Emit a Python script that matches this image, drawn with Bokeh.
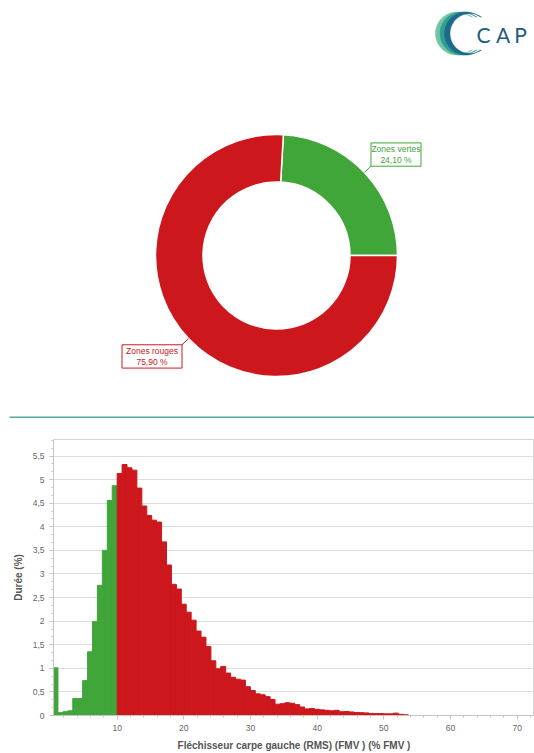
import math
import numpy as np
from bokeh.plotting import figure
from bokeh.models import Range1d, FixedTicker, ColumnDataSource
from bokeh.embed import file_html
from bokeh.resources import INLINE
from bokeh.core.properties import value

# ---------------- data ----------------
zone_names = ["Zones vertes", "Zones rouges"]
zone_pcts = [24.10, 75.90]
zone_colors = ["#41a63a", "#cc181d"]

bin_width = 0.74
threshold = 10.0
green_vals = [1.01, 0.06, 0.08, 0.10, 0.36, 0.36, 0.74, 1.35, 1.99, 2.76, 3.50, 4.56, 4.87]
red_vals = [5.13, 5.32, 5.25, 5.20, 4.82, 4.44, 4.24, 4.14, 4.10, 3.68,
            3.19, 2.78, 2.68, 2.36, 2.19, 2.02, 1.79, 1.66, 1.46, 1.16,
            0.99, 1.04, 0.90, 0.81, 0.77, 0.75, 0.61, 0.53, 0.46, 0.44,
            0.40, 0.34, 0.24, 0.25, 0.27, 0.26, 0.23, 0.18, 0.14, 0.15,
            0.13, 0.12, 0.11, 0.10, 0.11, 0.08, 0.085, 0.075, 0.065, 0.06,
            0.055, 0.045, 0.04, 0.04, 0.035, 0.035, 0.05, 0.025, 0.015]

y_ticks = [0, 0.5, 1, 1.5, 2, 2.5, 3, 3.5, 4, 4.5, 5, 5.5]
y_tick_labels = ["0", "0,5", "1", "1,5", "2", "2,5", "3", "3,5", "4", "4,5", "5", "5,5"]
x_ticks = [10, 20, 30, 40, 50, 60, 70]
x_label = "Fléchisseur carpe gauche (RMS) (FMV ) (% FMV )"
y_label = "Durée (%)"
logo_letters = ["C", "A", "P"]

# ---------------- layout constants ----------------
W = 534
H_TOP = 425
H_BOT = 328
FONT = "Liberation Sans"

# ---------------- top figure: logo + donut ----------------
top = figure(width=W, height=H_TOP, x_range=Range1d(0, W), y_range=Range1d(0, H_TOP),
             output_backend="svg", toolbar_location=None, x_axis_type=None, y_axis_type=None,
             min_border=0, outline_line_color=None)
top.grid.visible = False

# logo crescents
lcx, lcy, lr = 456.5, 392.0, 21.5
cres_colors = ["#74c6a2", "#2f9f95", "#1d6a8a"]
for i, c in enumerate(cres_colors):
    cx0 = lcx + i * 4.5
    a = np.linspace(math.radians(55), math.radians(305), 60)
    outer_x = cx0 + lr * np.cos(a)
    outer_y = lcy + lr * np.sin(a)
    inner_r = lr * 0.93
    b = np.linspace(math.radians(305), math.radians(55), 60)
    inner_x = cx0 + 4.0 + inner_r * np.cos(b)
    inner_y = lcy + inner_r * np.sin(b)
    top.patch(list(outer_x) + list(inner_x), list(outer_y) + list(inner_y),
              fill_color=c, line_color=c, line_width=0.5)
letter_x = [483, 502.5, 520]
top.text(x=letter_x, y=[391.5] * 3, text=logo_letters, text_align="center",
         text_baseline="middle", text_font=value("Lato"), text_font_size="21px",
         text_color="#1f5d7c")

# separator line
top.line(x=[9, W], y=[8.3, 8.3], line_color="#55aa9c", line_width=1.5)

# donut
cx, cy = 276.0, 170.0
r_out, r_in = 121.0, 73.5
total = sum(zone_pcts)
starts, ends = [], []
acc = 0.0
for v in zone_pcts:
    starts.append(2 * math.pi * acc / total)
    acc += v
    ends.append(2 * math.pi * acc / total)
src = ColumnDataSource(dict(start=starts, end=ends, color=zone_colors))
top.annular_wedge(x=cx, y=cy, inner_radius=r_in, outer_radius=r_out,
                  start_angle="start", end_angle="end", fill_color="color",
                  line_color="white", line_width=1.5, source=src)

box_w = {"Zones vertes": 50, "Zones rouges": 60}
box_h = 23.3
for name, pct, col, s, e in zip(zone_names, zone_pcts, zone_colors, starts, ends):
    m = (s + e) / 2
    p1 = (cx + r_out * math.cos(m), cy + r_out * math.sin(m))
    p2 = (cx + (r_out + 9) * math.cos(m), cy + (r_out + 9) * math.sin(m))
    top.line(x=[p1[0], p2[0]], y=[p1[1], p2[1]], line_color=col, line_width=1)
    bw = box_w[name]
    bx = p2[0] + bw / 2 if math.cos(m) >= 0 else p2[0] - bw / 2
    by = p2[1] + box_h / 2 if math.sin(m) >= 0 else p2[1] - box_h / 2
    top.rect(x=bx, y=by, width=bw, height=box_h, fill_color="white",
             line_color=col, line_width=1)
    pct_txt = f"{pct:.2f} %".replace(".", ",")
    top.text(x=[bx, bx], y=[by + 5.6, by - 5.6], text=[name, pct_txt],
             text_align="center", text_baseline="middle", text_font=value(FONT),
             text_font_size="8.5px", text_color=col)

# ---------------- bottom figure: histogram ----------------
hist = figure(width=W, height=H_BOT, x_range=Range1d(0.45, 72.6), y_range=Range1d(0, 5.85),
              output_backend="svg", toolbar_location=None,
              min_border_left=53, min_border_right=0, min_border_top=14, min_border_bottom=37,
              outline_line_color="#d6d6d6")

n_g = len(green_vals)
vals = green_vals + red_vals
lefts = [threshold - bin_width * n_g + i * bin_width for i in range(len(vals))]
rights = [l + bin_width for l in lefts]
cols = [zone_colors[0]] * n_g + [zone_colors[1]] * len(red_vals)
hsrc = ColumnDataSource(dict(left=lefts, right=rights, top=vals, color=cols))
hist.quad(left="left", right="right", bottom=0, top="top", fill_color="color",
          line_color="color", line_width=1, source=hsrc)

hist.xaxis.ticker = FixedTicker(ticks=x_ticks, minor_ticks=list(range(0, 74, 2)))
hist.yaxis.ticker = FixedTicker(ticks=y_ticks, minor_ticks=[k * 0.5 / 3 for k in range(0, 36)])
hist.yaxis.major_label_overrides = {float(t): l for t, l in zip(y_ticks, y_tick_labels)}
hist.xaxis.axis_label = x_label
hist.yaxis.axis_label = y_label

for ax in (hist.xaxis, hist.yaxis):
    ax.axis_line_color = "#c4c4c4"
    ax.major_tick_line_color = "#c4c4c4"
    ax.minor_tick_line_color = "#c4c4c4"
    ax.major_tick_out = 4
    ax.major_tick_in = 0
    ax.minor_tick_out = 2
    ax.minor_tick_in = 0
    ax.major_label_text_color = "#666666"
    ax.major_label_text_font = FONT
    ax.major_label_text_font_size = "8.5px"
    ax.major_label_standoff = 5
    ax.axis_label_text_font = FONT
    ax.axis_label_text_font_style = "bold"
    ax.axis_label_text_font_size = "10px"
    ax.axis_label_text_color = "#555555"
    ax.axis_label_standoff = 6

hist.xgrid.visible = False
hist.ygrid.grid_line_color = "#dedede"
hist.ygrid.grid_line_width = 1

open("out.html", "w").write(file_html([top, hist], INLINE))
